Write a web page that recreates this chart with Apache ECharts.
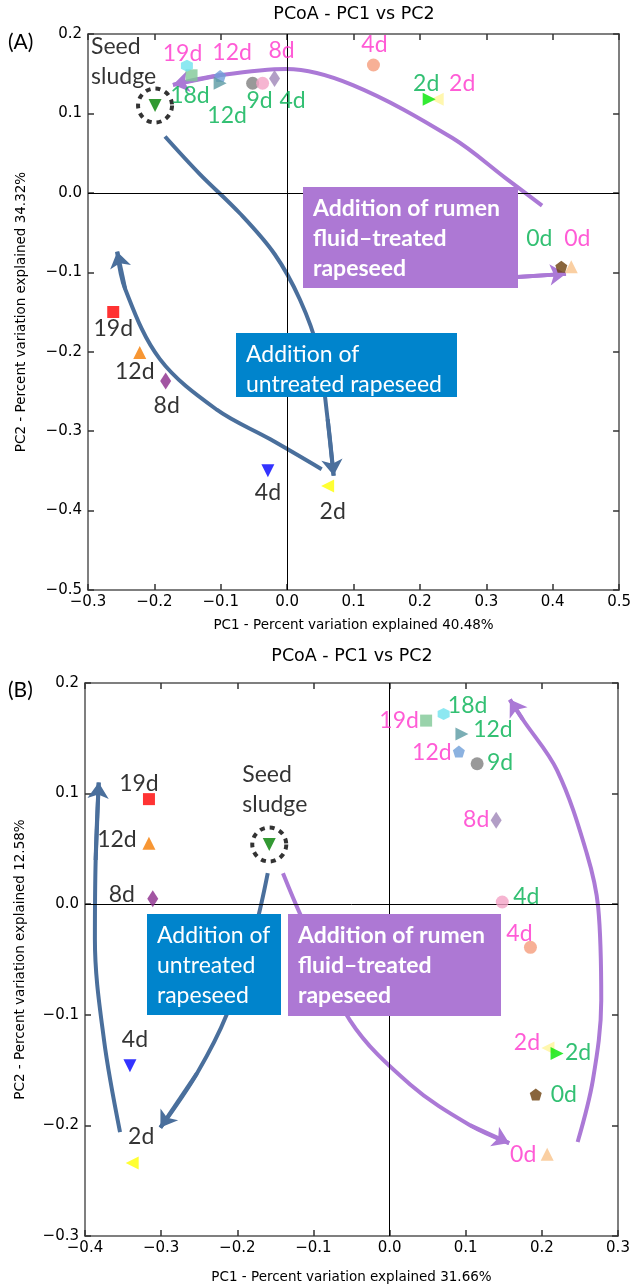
<!DOCTYPE html>
<html><head><meta charset="utf-8">
<script src="https://cdn.jsdelivr.net/npm/echarts@6/dist/echarts.min.js"></script>
<style>html,body{margin:0;padding:0;background:#fff}#c{width:634px;height:1288px}</style>
</head><body><div id="c"></div>
<script>
// ================= DATA =================
// Panel A
const A_xTicks = [-0.3, 0.5];
const A_yTicks = [-0.5, 0.2];
const A_xTitle = 'PC1 - Percent variation explained 40.48%';
const A_yTitle = 'PC2 - Percent variation explained 34.32%';
const A_untrLabels = ['19d','12d','8d','4d','2d'];
const A_untrX = [-0.262,-0.222,-0.183,-0.029,0.061];
const A_untrY = [-0.150,-0.201,-0.237,-0.350,-0.369];
const A_magLabels = ['19d','12d','8d','4d','2d','0d'];
const A_magX = [-0.144,-0.101,-0.019,0.130,0.226,0.428];
const A_magY = [0.148,0.147,0.144,0.161,0.118,-0.093];
const A_grnLabels = ['18d','12d','9d','4d','2d','0d'];
const A_grnX = [-0.151,-0.101,-0.052,-0.037,0.214,0.413];
const A_grnY = [0.160,0.138,0.138,0.138,0.118,-0.093];
const A_seed = [-0.199, 0.110];
// arrow paths (data units)
const A_arrowPurple1 = [[0.384,-0.016],[0.330,0.018],[0.249,0.069],[0.098,0.136],[-0.001,0.156],[-0.102,0.148],[-0.172,0.136]];
const A_arrowPurple2 = [[0.347,-0.106],[0.420,-0.102]];
const A_arrowBlue1 = [[-0.184,0.071],[-0.132,0.024],[-0.071,-0.026],[-0.019,-0.077],[0.019,-0.134],[0.046,-0.197],[0.061,-0.285],[0.070,-0.356]];
const A_arrowBlue2 = [[0.052,-0.348],[-0.026,-0.310],[-0.106,-0.273],[-0.192,-0.209],[-0.244,-0.121],[-0.256,-0.074]];

// Panel B
const B_xTicks = [-0.4, 0.3];
const B_yTicks = [-0.3, 0.2];
const B_xTitle = 'PC1 - Percent variation explained 31.66%';
const B_yTitle = 'PC2 - Percent variation explained 12.58%';
const B_untrLabels = ['19d','12d','8d','4d','2d'];
const B_untrX = [-0.316,-0.316,-0.311,-0.341,-0.338];
const B_untrY = [0.095,0.055,0.005,-0.146,-0.234];
const B_magLabels = ['19d','12d','8d','4d','2d','0d'];
const B_magX = [0.048,0.091,0.140,0.185,0.208,0.207];
const B_magY = [0.166,0.138,0.076,-0.039,-0.130,-0.226];
const B_grnLabels = ['18d','12d','9d','4d','2d','0d'];
const B_grnX = [0.071,0.095,0.115,0.148,0.220,0.192];
const B_grnY = [0.172,0.154,0.127,0.002,-0.135,-0.172];
const B_seed = [-0.158, 0.054];
const B_arrowBlue1 = [[-0.354,-0.206],[-0.375,-0.123],[-0.387,-0.032],[-0.386,0.040],[-0.382,0.110]];
const B_arrowBlue2 = [[-0.160,0.028],[-0.177,-0.023],[-0.214,-0.100],[-0.253,-0.153],[-0.301,-0.202]];
const B_arrowPurple1 = [[-0.140,0.028],[-0.118,-0.008],[-0.052,-0.105],[0.027,-0.163],[0.106,-0.200],[0.157,-0.216]];
const B_arrowPurple2 = [[0.247,-0.215],[0.267,-0.159],[0.278,-0.087],[0.274,-0.003],[0.259,0.046],[0.220,0.121],[0.175,0.167],[0.158,0.185]];

const titleText = 'PCoA - PC1 vs PC2';
const seedText = 'Seed\nsludge';
const boxPurpleText = 'Addition of rumen\nfluid\u2013treated\nrapeseed';
const boxBlueTextA = 'Addition of\nuntreated rapeseed';
const boxBlueTextB = 'Addition of\nuntreated\nrapeseed';

// ================= STYLES / LAYOUT =================
const HEX = 'path://M0,-1 L0.866,-0.5 L0.866,0.5 L0,1 L-0.866,0.5 L-0.866,-0.5 Z';
const PENT = 'path://M0,-1 L0.951,-0.309 L0.588,0.809 L-0.588,0.809 L-0.951,-0.309 Z';
const untrStyle = [
  {symbol:'rect', size:12, rot:0, color:'#ff0000'},
  {symbol:'triangle', size:13, rot:0, color:'#f57c00'},
  {symbol:'diamond', size:[11,17], rot:0, color:'#8b2a8b'},
  {symbol:'triangle', size:13, rot:180, color:'#0000ff'},
  {symbol:'triangle', size:13, rot:90, color:'#ffff00'}
];
const magStyle = [
  {symbol:'rect', size:12, rot:0, color:'#80c896'},
  {symbol:PENT, size:12, rot:0, color:'#6f9fd8'},
  {symbol:'diamond', size:[11,17], rot:0, color:'#9f86b8'},
  {symbol:'circle', size:13, rot:0, color:'#f59c7c'},
  {symbol:'triangle', size:13, rot:90, color:'#fff59a'},
  {symbol:'triangle', size:13, rot:0, color:'#f9c38b'}
];
const grnStyle = [
  {symbol:HEX, size:12, rot:0, color:'#70e2ee'},
  {symbol:'triangle', size:13, rot:-90, color:'#5a9aa2'},
  {symbol:'circle', size:13, rot:0, color:'#808080'},
  {symbol:'circle', size:13, rot:0, color:'#f4a2c6'},
  {symbol:'triangle', size:13, rot:-90, color:'#00e600'},
  {symbol:PENT, size:12, rot:0, color:'#6b3e0b'}
];
const A_untrOff = [[0,17],[-5,19],[1,24],[0,22],[5,26]];
const A_magOff = [[-9,-22],[12,-24],[7,-28],[1,-20],[25,-16],[6,-28]];
const A_grnOff = [[3,30],[7,32],[7,17],[30,17],[-3,-16],[-22,-28]];
const A_seedOff = [-64,-44];
const B_untrOff = [[-10,-16],[-32,-4],[-31,-4],[5,-26],[9,-26]];
const B_magOff = [[-27,0],[-27,1],[-20,-1],[-11,-14],[-21,-5],[-24,0]];
const B_grnOff = [[24,-8],[31,-4],[23,-1],[24,-5],[21,-1],[28,0]];
const B_seedOff = [-27,-55];

const MAG = '#ff33cc', GRN = '#00b050', BLK = '#000';
const ARROW_BLUE = '#4a6f9c', ARROW_PURPLE = '#ab79d6';
const BOX_BLUE = '#0084cc', BOX_PURPLE = '#ad78d4';
const LABEL_FONT = 'Lato';
const LABEL_SIZE = 23;

const fmt = v => (Math.round(v*10)/10).toFixed(1).replace('-', '\u2212');

function axesFor(gi, xr, yr, xTitle, yTitle, xGap, yGap) {
  const common = {type:'value', interval:0.1, splitLine:{show:false},
    axisLine:{onZero:false, lineStyle:{color:'#555', width:1.5}},
    axisTick:{inside:true, length:6, lineStyle:{color:'#333', width:1.5}}};
  const xs = [
    Object.assign({}, common, {gridIndex:gi, min:xr[0], max:xr[1], position:'bottom',
      axisLabel:{formatter:fmt, fontFamily:'DejaVu Sans', fontSize:15, color:'#000', margin:5, showMinLabel:true, showMaxLabel:true},
      name:xTitle, nameLocation:'middle', nameGap:xGap, nameTextStyle:{fontFamily:'DejaVu Sans', fontSize:13.5, color:'#000'}}),
    Object.assign({}, common, {gridIndex:gi, min:xr[0], max:xr[1], position:'top', axisLabel:{show:false}})
  ];
  const ys = [
    Object.assign({}, common, {gridIndex:gi, min:yr[0], max:yr[1], position:'left',
      axisLabel:{formatter:fmt, fontFamily:'DejaVu Sans', fontSize:15, color:'#000', margin:6, showMinLabel:true, showMaxLabel:true},
      name:yTitle, nameLocation:'middle', nameGap:yGap, nameTextStyle:{fontFamily:'DejaVu Sans', fontSize:13.5, color:'#000'}}),
    Object.assign({}, common, {gridIndex:gi, min:yr[0], max:yr[1], position:'right', axisLabel:{show:false}})
  ];
  return {xs, ys};
}

function scatter(xi, yi, xs, ys, labels, styles, offs, color) {
  return {type:'scatter', xAxisIndex:xi, yAxisIndex:yi, z:5, silent:true,
    data: xs.map((x,i)=>({value:[x, ys[i]], symbol:styles[i].symbol, symbolSize:styles[i].size,
      symbolRotate:styles[i].rot, itemStyle:{color:styles[i].color},
      label:{show:true, formatter:labels[i], position:'inside', offset:offs[i], color:color,
        textBorderWidth:0, fontFamily:LABEL_FONT, fontSize:LABEL_SIZE}}))};
}
function seedSeries(xi, yi, seed, off, labelColor) {
  return [
    {type:'scatter', xAxisIndex:xi, yAxisIndex:yi, z:5, silent:true,
     data:[{value:seed, symbol:'circle', symbolSize:34,
       itemStyle:{color:'rgba(0,0,0,0)', borderColor:'#000', borderWidth:4, borderType:[5,5]}}]},
    {type:'scatter', xAxisIndex:xi, yAxisIndex:yi, z:6, silent:true,
     data:[{value:seed, symbol:'triangle', symbolSize:13, symbolRotate:180, itemStyle:{color:'#007f00'},
       label:{show:true, formatter:seedText, position:'inside', align:'left', verticalAlign:'middle',
         offset:off, color:labelColor, textBorderWidth:0, fontFamily:LABEL_FONT, fontSize:LABEL_SIZE, lineHeight:30}}]}
  ];
}
function arrow(xi, yi, pts, color) {
  const n = pts.length;
  return [
    {type:'line', xAxisIndex:xi, yAxisIndex:yi, data:pts, smooth:0.35, symbol:'none', silent:true,
     lineStyle:{color:color, width:4}, z:2},
    {type:'lines', coordinateSystem:'cartesian2d', xAxisIndex:xi, yAxisIndex:yi, silent:true, z:3,
     symbol:['none','arrow'], symbolSize:16, lineStyle:{color:color, width:4, opacity:1},
     data:[{coords:[pts[n-2], pts[n-1]]}]}
  ];
}
function zeroLines(xi, yi) {
  return {type:'line', xAxisIndex:xi, yAxisIndex:yi, data:[], silent:true, z:1,
    markLine:{silent:true, symbol:['none','none'], label:{show:false}, animation:false,
      lineStyle:{color:'#000', width:1, type:'solid'},
      data:[{xAxis:0},{yAxis:0}]}};
}

const aAx = axesFor(0, A_xTicks, A_yTicks, A_xTitle, A_yTitle, 28, 60);
const bAx = axesFor(1, B_xTicks, B_yTicks, B_xTitle, B_yTitle, 34, 58);

const series = [
  zeroLines(0,0), zeroLines(2,2),
  ...arrow(0,0,A_arrowPurple1,ARROW_PURPLE), ...arrow(0,0,A_arrowPurple2,ARROW_PURPLE),
  ...arrow(0,0,A_arrowBlue1,ARROW_BLUE), ...arrow(0,0,A_arrowBlue2,ARROW_BLUE),
  ...arrow(2,2,B_arrowBlue1,ARROW_BLUE), ...arrow(2,2,B_arrowBlue2,ARROW_BLUE),
  ...arrow(2,2,B_arrowPurple1,ARROW_PURPLE), ...arrow(2,2,B_arrowPurple2,ARROW_PURPLE),
  scatter(0,0,A_untrX,A_untrY,A_untrLabels,untrStyle,A_untrOff,BLK),
  scatter(0,0,A_magX,A_magY,A_magLabels,magStyle,A_magOff,MAG),
  scatter(0,0,A_grnX,A_grnY,A_grnLabels,grnStyle,A_grnOff,GRN),
  ...seedSeries(0,0,A_seed,A_seedOff,BLK),
  scatter(2,2,B_untrX,B_untrY,B_untrLabels,untrStyle,B_untrOff,BLK),
  scatter(2,2,B_magX,B_magY,B_magLabels,magStyle,B_magOff,MAG),
  scatter(2,2,B_grnX,B_grnY,B_grnLabels,grnStyle,B_grnOff,GRN),
  ...seedSeries(2,2,B_seed,B_seedOff,BLK)
];

function txt(x, y, text, font, fill, align, vAlign, lh) {
  return {type:'text', z:100, silent:true, style:{x:x, y:y, text:text, font:font, fill:fill,
    align:align, verticalAlign:vAlign, textAlign:align, textVerticalAlign:vAlign, lineHeight:lh}};
}
function box(x, y, w, h, color, text, bold) {
  return [
    {type:'rect', z:90, silent:true, shape:{x:x, y:y, width:w, height:h}, style:{fill:color}},
    txt(x+10, y+7, text, (bold?'bold ':'')+LABEL_SIZE+'px '+LABEL_FONT, '#fff', 'left', 'top', 30)
  ];
}

const option = {
  animation:false,
  backgroundColor:'#fff',
  grid:[
    {left:88, top:34, width:532, height:556, containLabel:false},
    {left:85, top:683, width:533, height:553, containLabel:false}
  ],
  xAxis:[...aAx.xs, ...bAx.xs],
  yAxis:[...aAx.ys, ...bAx.ys],
  series:series,
  graphic:[
    txt(354, 14, titleText, '17.5px DejaVu Sans', '#000', 'center', 'middle', 20),
    txt(352, 656, titleText, '17.5px DejaVu Sans', '#000', 'center', 'middle', 20),
    txt(8, 42, '(A)', '21px '+LABEL_FONT, '#000', 'left', 'middle', 22),
    txt(8, 690, '(B)', '21px '+LABEL_FONT, '#000', 'left', 'middle', 22),
    ...box(303, 187, 215, 101, BOX_PURPLE, boxPurpleText, true),
    ...box(236, 333, 221, 64, BOX_BLUE, boxBlueTextA, false),
    ...box(147, 914, 134, 101, BOX_BLUE, boxBlueTextB, false),
    ...box(288, 914, 213, 102, BOX_PURPLE, boxPurpleText, true)
  ]
};
const chart = echarts.init(document.getElementById('c'), null, {renderer:'canvas'});
chart.setOption(option);
</script></body></html>
